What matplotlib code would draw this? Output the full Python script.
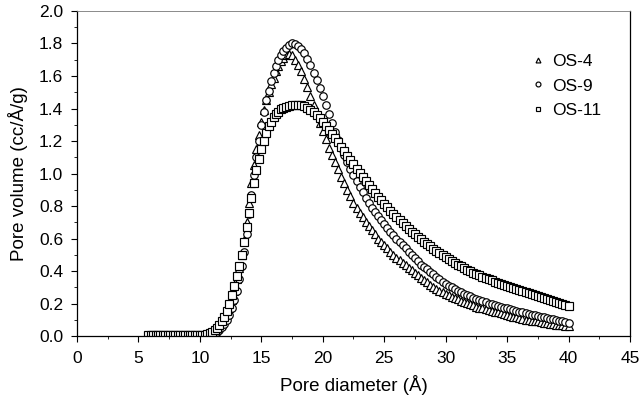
import matplotlib

matplotlib.use("Agg")
import matplotlib.pyplot as plt
from matplotlib.ticker import MultipleLocator

# pore diameter (Å), shared by all three samples
diameter = [
    5.8, 6.0, 6.2, 6.4, 6.6, 6.8, 7.0, 7.2, 7.4, 7.6, 7.8, 8.0,
    8.2, 8.4, 8.6, 8.8, 9.0, 9.2, 9.4, 9.6, 9.8, 10.0, 10.2, 10.4,
    10.6, 10.8, 11.0, 11.2, 11.4, 11.6, 11.8, 12.0, 12.2, 12.4, 12.6, 12.8,
    13.0, 13.2, 13.4, 13.6, 13.8, 14.0, 14.2, 14.4, 14.6, 14.8, 15.0, 15.2,
    15.4, 15.6, 15.8, 16.0, 16.2, 16.4, 16.6, 16.8, 17.0,
    17.25, 17.5, 17.75, 18.0, 18.25, 18.5, 18.75, 19.0, 19.25, 19.5, 19.75, 20.0,
    20.25, 20.5, 20.75, 21.0, 21.25, 21.5, 21.75, 22.0, 22.25, 22.5, 22.75, 23.0,
    23.25, 23.5, 23.75, 24.0, 24.25, 24.5, 24.75, 25.0, 25.25, 25.5, 25.75, 26.0,
    26.25, 26.5, 26.75, 27.0, 27.25, 27.5, 27.75, 28.0, 28.25, 28.5, 28.75, 29.0,
    29.25, 29.5, 29.75, 30.0, 30.25, 30.5, 30.75, 31.0, 31.25, 31.5, 31.75, 32.0,
    32.25, 32.5, 32.75, 33.0, 33.25, 33.5, 33.75, 34.0, 34.25, 34.5, 34.75, 35.0,
    35.25, 35.5, 35.75, 36.0, 36.25, 36.5, 36.75, 37.0, 37.25, 37.5, 37.75, 38.0,
    38.25, 38.5, 38.75, 39.0, 39.25, 39.5, 39.75, 40.0,
]

# pore volume (cc/Å/g)
os4 = [
    0.003, 0.003, 0.003, 0.003, 0.003, 0.003, 0.003, 0.003, 0.003, 0.003, 0.003, 0.003,
    0.003, 0.003, 0.003, 0.003, 0.003, 0.003, 0.003, 0.003, 0.003, 0.004, 0.005, 0.007,
    0.010, 0.015, 0.022, 0.032, 0.045, 0.060, 0.080, 0.105, 0.135, 0.175, 0.22, 0.28,
    0.35, 0.42, 0.50, 0.59, 0.70, 0.82, 0.94, 1.05, 1.15, 1.24, 1.32, 1.39,
    1.45, 1.50, 1.55, 1.59, 1.63, 1.66, 1.69, 1.71, 1.73,
    1.735, 1.73, 1.70, 1.67, 1.63, 1.58, 1.53, 1.48, 1.42, 1.37, 1.31, 1.26,
    1.21, 1.16, 1.115, 1.07, 1.025, 0.98, 0.94, 0.90, 0.86, 0.82, 0.79, 0.76,
    0.73, 0.70, 0.675, 0.65, 0.625, 0.60, 0.58, 0.56, 0.54, 0.52, 0.50, 0.48,
    0.465, 0.45, 0.435, 0.42, 0.405, 0.39, 0.375, 0.36, 0.345, 0.33, 0.315, 0.30,
    0.29, 0.28, 0.27, 0.26, 0.25, 0.24, 0.232, 0.225, 0.217, 0.21, 0.202, 0.195,
    0.188, 0.18, 0.175, 0.17, 0.165, 0.16, 0.155, 0.15, 0.145, 0.14, 0.135, 0.13,
    0.125, 0.12, 0.115, 0.11, 0.105, 0.10, 0.098, 0.095, 0.092, 0.09, 0.085, 0.08,
    0.078, 0.075, 0.072, 0.07, 0.067, 0.065, 0.062, 0.06,
]

os9 = [
    0.002, 0.002, 0.002, 0.002, 0.002, 0.002, 0.002, 0.002, 0.002, 0.002, 0.002, 0.002,
    0.002, 0.002, 0.002, 0.002, 0.002, 0.002, 0.002, 0.002, 0.002, 0.003, 0.004, 0.005,
    0.006, 0.009, 0.013, 0.019, 0.027, 0.038, 0.053, 0.072, 0.097, 0.13, 0.17, 0.22,
    0.28, 0.35, 0.43, 0.52, 0.63, 0.75, 0.87, 0.99, 1.10, 1.20, 1.30, 1.38,
    1.45, 1.51, 1.57, 1.62, 1.66, 1.70, 1.73, 1.755, 1.775,
    1.79, 1.80, 1.795, 1.785, 1.765, 1.74, 1.705, 1.665, 1.62, 1.575, 1.525, 1.475,
    1.42, 1.365, 1.31, 1.255, 1.205, 1.16, 1.115, 1.07, 1.03, 0.99, 0.955, 0.92,
    0.885, 0.85, 0.82, 0.79, 0.765, 0.74, 0.715, 0.69, 0.665, 0.64, 0.62, 0.60,
    0.58, 0.56, 0.54, 0.52, 0.50, 0.48, 0.46, 0.44, 0.425, 0.41, 0.395, 0.38,
    0.365, 0.35, 0.335, 0.32, 0.31, 0.30, 0.29, 0.28, 0.27, 0.26, 0.252, 0.245,
    0.237, 0.23, 0.222, 0.215, 0.207, 0.20, 0.195, 0.19, 0.185, 0.18, 0.175, 0.17,
    0.165, 0.16, 0.155, 0.15, 0.145, 0.14, 0.135, 0.13, 0.127, 0.124, 0.12, 0.115,
    0.11, 0.105, 0.102, 0.099, 0.095, 0.091, 0.087, 0.083,
]

os11 = [
    0.004, 0.004, 0.004, 0.004, 0.004, 0.004, 0.004, 0.004, 0.004, 0.004, 0.004, 0.004,
    0.004, 0.004, 0.004, 0.004, 0.004, 0.004, 0.004, 0.004, 0.004, 0.005, 0.006, 0.008,
    0.012, 0.018, 0.026, 0.037, 0.052, 0.070, 0.093, 0.12, 0.155, 0.20, 0.25, 0.31,
    0.37, 0.43, 0.50, 0.58, 0.67, 0.76, 0.85, 0.94, 1.02, 1.09, 1.15, 1.20,
    1.25, 1.29, 1.32, 1.345, 1.365, 1.38, 1.395, 1.405, 1.412,
    1.418, 1.422, 1.424, 1.423, 1.42, 1.414, 1.405, 1.393, 1.378, 1.36, 1.34, 1.318,
    1.295, 1.27, 1.245, 1.22, 1.193, 1.166, 1.138, 1.11, 1.083, 1.056, 1.03, 1.004,
    0.978, 0.953, 0.928, 0.904, 0.88, 0.857, 0.835, 0.813, 0.792, 0.771, 0.751, 0.731,
    0.712, 0.694, 0.676, 0.659, 0.642, 0.626, 0.61, 0.595, 0.58, 0.565, 0.551, 0.537,
    0.524, 0.511, 0.498, 0.486, 0.474, 0.462, 0.451, 0.44, 0.429, 0.418, 0.408, 0.398,
    0.39, 0.382, 0.374, 0.366, 0.358, 0.35, 0.342, 0.335, 0.328, 0.321, 0.314, 0.307,
    0.3, 0.294, 0.288, 0.282, 0.276, 0.27, 0.264, 0.258, 0.252, 0.246, 0.24, 0.234,
    0.228, 0.222, 0.216, 0.21, 0.204, 0.198, 0.192, 0.186,
]

labels = ["OS-4", "OS-9", "OS-11"]
markers = ["^", "o", "s"]

plt.rcParams["font.family"] = ["Liberation Sans", "DejaVu Sans"]

fig = plt.figure(figsize=(6.41, 4.01), dpi=100)
ax = fig.add_axes([0.120, 0.162, 0.8628, 0.8106])

for y, lab, m in zip([os4, os9, os11], labels, markers):
    ax.plot(diameter, y, linestyle="none", marker=m, markersize=5.4,
            markerfacecolor="white", markeredgecolor="black",
            markeredgewidth=0.85, label=lab)

ax.set_xlim(0, 45)
ax.set_ylim(0, 2.0)
ax.xaxis.set_major_locator(MultipleLocator(5))
ax.xaxis.set_minor_locator(MultipleLocator(2.5))
ax.yaxis.set_major_locator(MultipleLocator(0.2))
ax.yaxis.set_minor_locator(MultipleLocator(0.1))
ax.yaxis.set_major_formatter(matplotlib.ticker.FormatStrFormatter("%.1f"))

ax.tick_params(which="major", direction="out", length=4, width=0.8,
               labelsize=12.5)
ax.tick_params(axis="x", which="major", pad=7)
ax.tick_params(axis="y", which="major", pad=6)
ax.tick_params(which="minor", direction="out", length=2.5, width=0.6)
ax.tick_params(top=False, right=False, which="both")

for side in ["left", "bottom", "right"]:
    ax.spines[side].set_linewidth(0.9)
ax.spines["top"].set_linewidth(0.6)
ax.spines["top"].set_color("#777777")

ax.set_xlabel("Pore diameter (Å)", fontsize=13.5, labelpad=6)
ax.set_ylabel("Pore volume (cc/Å/g)", fontsize=13.5, labelpad=8)

ax.legend(loc="upper left", bbox_to_anchor=(0.81, 0.89), frameon=False,
          fontsize=12.5, markerscale=0.65, handlelength=0.7, handletextpad=0.45,
          labelspacing=0.55, borderaxespad=0)

fig.savefig("out.png", dpi=100)
